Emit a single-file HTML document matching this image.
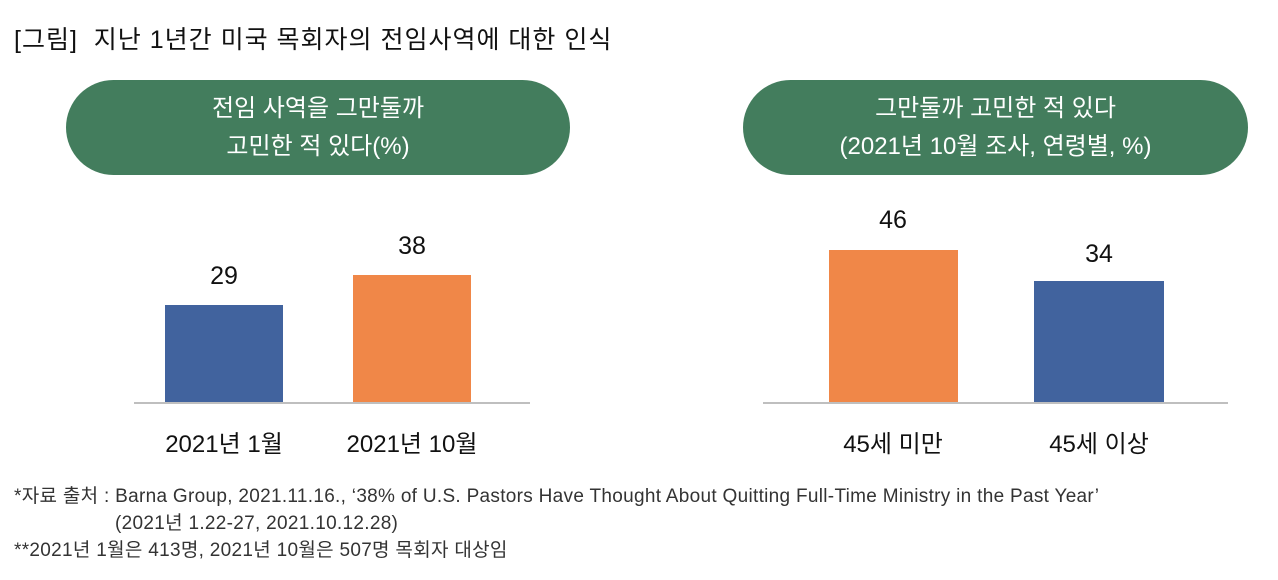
<!DOCTYPE html>
<html><head><meta charset="utf-8"><style>
body{margin:0;width:1278px;height:580px;background:#fff;position:relative;overflow:hidden;font-family:"Liberation Sans","Noto Sans CJK KR",sans-serif;color:#111}
div{position:absolute}
.pill{background:#437d5d;border-radius:48px;color:#fff;font-size:24px;text-align:center;line-height:38px;height:95px;top:80px;padding-top:10px;box-sizing:border-box}
.ax{height:2px;background:#bfbfbf;top:402px}
.v{font-size:25px;text-align:center;width:140px}
.xl{font-size:24px;text-align:center;width:200px;top:424px}
.fn{font-size:19px;color:#333;letter-spacing:0.3px;white-space:nowrap}
</style></head><body>
<div style="left:14px;top:20px;font-size:25px;letter-spacing:1px">[그림]&nbsp; 지난 1년간 미국 목회자의 전임사역에 대한 인식</div>
<div class="pill" style="left:66px;width:504px">전임 사역을 그만둘까<br>고민한 적 있다(%)</div>
<div class="pill" style="left:743px;width:505px">그만둘까 고민한 적 있다<br>(2021년 10월 조사, 연령별, %)</div>

<div style="left:165px;top:305px;width:118px;height:98px;background:#41639e"></div>
<div style="left:353px;top:275px;width:118px;height:128px;background:#f08748"></div>
<div class="ax" style="left:134px;width:396px"></div>
<div class="v" style="left:154px;top:262px">29</div>
<div class="v" style="left:342px;top:232px">38</div>
<div class="xl" style="left:124px">2021년 1월</div>
<div class="xl" style="left:312px">2021년 10월</div>

<div style="left:829px;top:250px;width:129px;height:153px;background:#f08748"></div>
<div style="left:1034px;top:281px;width:130px;height:122px;background:#41639e"></div>
<div class="ax" style="left:763px;width:465px"></div>
<div class="v" style="left:823px;top:206px">46</div>
<div class="v" style="left:1029px;top:240px">34</div>
<div class="xl" style="left:793px">45세 미만</div>
<div class="xl" style="left:999px">45세 이상</div>

<div class="fn" style="left:14px;top:481px">*자료 출처 : Barna Group, 2021.11.16., ‘38% of U.S. Pastors Have Thought About Quitting Full-Time Ministry in the Past Year’</div>
<div class="fn" style="left:115px;top:508px">(2021년 1.22-27, 2021.10.12.28)</div>
<div class="fn" style="left:14px;top:535px">**2021년 1월은 413명, 2021년 10월은 507명 목회자 대상임</div>
</body></html>
